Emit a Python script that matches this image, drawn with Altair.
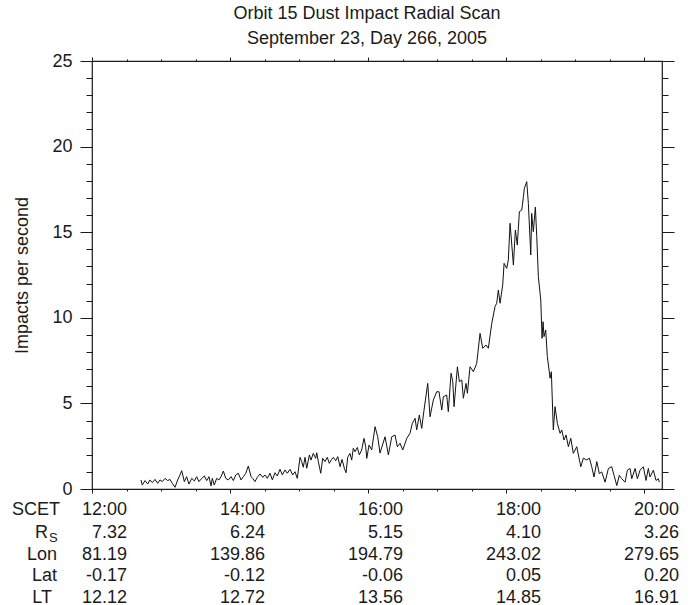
import altair as alt
import pandas as pd

# ---- data ----
# sample time in minutes after 12:00 SCET, and impact rate (impacts / s)
MINUTES = [
    42.6, 43.7, 46.1, 48.4, 50.4, 52.4, 54.8, 57.1, 59.1, 61.1,
    63.5, 65.8, 67.8, 69.8, 72.2, 74.5, 76.5, 78.0, 80.3, 82.3,
    84.3, 86.7, 89.0, 91.0, 93.0, 95.4, 97.7, 99.7, 101.7, 103.5,
    104.6, 106.3, 108.4, 110.4, 112.2, 114.2, 116.3, 118.5, 120.9, 122.9,
    125.0, 127.2, 129.6, 131.6, 133.7, 135.9, 138.3, 139.7, 141.7, 143.7,
    146.1, 148.4, 150.4, 152.4, 154.8, 156.8, 159.1, 161.1, 163.5, 165.5,
    167.8, 169.8, 172.2, 174.5, 176.5, 178.5, 180.9, 182.3, 183.7, 185.2,
    186.7, 189.0, 190.4, 192.4, 194.5, 195.4, 196.8, 198.9, 200.6, 202.6,
    204.6, 206.3, 208.4, 209.8, 211.9, 213.7, 215.7, 217.4, 219.4, 220.9,
    222.3, 224.3, 225.8, 227.2, 228.7, 230.7, 232.4, 234.5, 236.5, 238.0,
    238.9, 240.9, 243.2, 246.1, 248.4, 250.4, 254.8, 257.7, 260.6, 263.5,
    265.5, 267.8, 270.2, 273.7, 276.5, 278.5, 280.9, 282.3, 284.6, 286.7,
    288.1, 291.9, 293.9, 296.8, 299.7, 301.7, 304.1, 305.5, 308.4, 309.8,
    312.2, 313.7, 314.8, 317.7, 319.4, 321.5, 322.9, 325.2, 326.4, 328.7,
    331.6, 334.5, 337.4, 339.7, 342.6, 344.6, 347.6, 350.4, 351.9, 353.3,
    354.8, 357.1, 358.3, 360.6, 362.0, 363.5, 366.4, 368.1, 369.8, 371.6,
    373.7, 375.1, 375.9, 378.0, 379.4, 381.5, 382.3, 383.7, 385.5, 386.7,
    388.1, 390.2, 391.3, 392.2, 393.0, 394.5, 395.9, 397.4, 398.3, 399.4,
    401.1, 402.6, 404.6, 407.0, 408.4, 410.4, 412.2, 414.2, 416.3, 418.5,
    421.5, 423.8, 425.0, 427.2, 430.2, 432.5, 434.5, 436.5, 438.9, 441.1,
    443.2, 446.1, 449.0, 451.9, 453.9, 456.3, 458.5, 460.6, 463.5, 465.5,
    467.8, 469.3, 472.2, 474.2, 476.5, 479.4, 481.7, 483.7, 485.2, 488.1,
    490.4, 492.4, 493.3,
]
RATE = [
    0.53, 0.23, 0.49, 0.29, 0.53, 0.37, 0.56, 0.33, 0.53, 0.43,
    0.62, 0.49, 0.56, 0.33, 0.10, 0.53, 0.82, 1.07, 0.43, 0.72,
    0.29, 0.62, 0.47, 0.72, 0.43, 0.62, 0.76, 0.49, 0.72, 0.18,
    0.62, 0.23, 0.62, 0.53, 0.72, 1.05, 0.62, 0.53, 0.72, 0.49,
    0.82, 0.92, 0.53, 0.72, 0.92, 1.34, 0.72, 0.62, 0.43, 0.68,
    0.88, 0.68, 0.82, 0.62, 0.92, 0.53, 0.95, 0.76, 1.15, 0.82,
    1.11, 0.92, 1.15, 0.82, 1.01, 0.62, 1.85, 1.60, 1.27, 1.85,
    1.21, 1.99, 1.69, 2.08, 1.79, 2.12, 1.60, 0.92, 1.79, 1.60,
    1.85, 1.50, 1.73, 1.85, 1.65, 1.89, 1.30, 1.73, 1.21, 0.95,
    1.85, 2.08, 1.69, 2.38, 2.18, 2.43, 1.99, 2.28, 2.96, 2.47,
    1.79, 2.57, 2.28, 3.64, 3.06, 2.10, 3.05, 1.99, 3.05, 3.15,
    2.47, 2.67, 2.28, 2.96, 3.25, 3.83, 4.13, 3.45, 4.32, 3.54,
    4.32, 6.17, 4.22, 5.20, 5.68, 5.68, 4.61, 5.39, 5.49, 4.52,
    6.76, 6.27, 4.81, 7.14, 6.27, 6.37, 5.30, 6.17, 5.59, 7.14,
    6.85, 7.34, 9.09, 8.22, 8.41, 8.22, 9.68, 10.65, 10.85, 11.62,
    10.85, 11.92, 13.18, 12.89, 13.38, 15.52, 13.08, 15.13, 14.25, 16.20,
    16.30, 17.08, 17.56, 17.95, 16.69, 13.67, 16.10, 15.03, 16.47, 14.74,
    12.40, 11.04, 8.80, 9.77, 8.90, 9.29, 7.73, 6.95, 6.47, 6.85,
    3.45, 4.81, 3.84, 3.25, 3.45, 2.86, 3.15, 2.47, 2.96, 2.08,
    2.47, 1.69, 1.30, 1.80, 1.70, 1.80, 1.30, 0.70, 1.60, 0.90,
    1.00, 0.40, 1.20, 1.30, 0.80, 0.20, 0.80, 0.60, 0.40, 1.10,
    1.20, 0.60, 1.20, 0.60, 1.10, 1.30, 0.50, 1.20, 0.70, 1.10,
    0.50, 0.60, 0.40,
]

# orbit ephemeris table under the time axis
TICK_HOURS = [12, 14, 16, 18, 20]
SCET = ["12:00", "14:00", "16:00", "18:00", "20:00"]
RS = ["7.32", "6.24", "5.15", "4.10", "3.26"]
LON = ["81.19", "139.86", "194.79", "243.02", "279.65"]
LAT = ["-0.17", "-0.12", "-0.06", "0.05", "0.20"]
LT = ["12.12", "12.72", "13.56", "14.85", "16.91"]

TITLE_1 = "Orbit 15 Dust Impact Radial Scan"
TITLE_2 = "September 23, Day 266, 2005"
Y_TITLE = "Impacts per second"

MAJOR_Y = [0, 5, 10, 15, 20, 25]
MINOR_Y = list(range(0, 26))
MAJOR_X = [12, 14, 16, 18, 20]
MINOR_X = [12, 12.5, 13, 13.5, 14, 14.5, 15, 15.5, 16, 16.5, 17, 17.5,
           18, 18.5, 19, 19.5, 20]

# ---- styling ----
FONT = "Liberation Sans"
INK = "#1a1a1a"
W, H = 570, 428
X_DOMAIN = [12, 20.26]
Y_DOMAIN = [0, 25]

df = pd.DataFrame({"hour": [12 + m / 60 for m in MINUTES], "rate": RATE})
table = pd.DataFrame({"hour": TICK_HOURS, "SCET": SCET, "RS": RS,
                      "LON": LON, "LAT": LAT, "LT": LT})
one = pd.DataFrame({"k": [0]})

xs = alt.Scale(domain=X_DOMAIN, nice=False, zero=False)
ys = alt.Scale(domain=Y_DOMAIN, nice=False, zero=False)


def tick_axis(values, size, orient):
    return alt.Axis(values=values, tickSize=size, orient=orient, labels=False,
                    domain=False, grid=False, title=None, ticks=True,
                    tickColor=INK, tickWidth=1)


base = alt.Chart(df)

line = base.mark_line(color="#111111", strokeWidth=1).encode(
    x=alt.X("hour:Q", scale=xs, axis=tick_axis(MAJOR_X, 4, "bottom")),
    y=alt.Y("rate:Q", scale=ys, axis=alt.Axis(
        values=MAJOR_Y, tickSize=12, orient="left", format="d",
        labelFontSize=18, labelFont=FONT, labelColor=INK, labelPadding=8,
        domain=False, grid=False, tickColor=INK, tickWidth=1,
        title=Y_TITLE, titleFont=FONT, titleFontSize=18,
        titleFontWeight="normal", titleColor=INK, titleAngle=270,
        titleX=-70, titleY=H / 2, titleAlign="center",
        titleBaseline="middle")),
)

ghost_specs = [
    (tick_axis(MINOR_X, 2, "bottom"), tick_axis(MINOR_Y, 6, "left")),
    (tick_axis(MAJOR_X, 4, "top"), tick_axis(MAJOR_Y, 12, "right")),
    (tick_axis(MINOR_X, 2, "top"), tick_axis(MINOR_Y, 6, "right")),
]
ghosts = [
    base.mark_line(opacity=0).encode(
        x=alt.X("hour:Q", scale=xs, axis=ax),
        y=alt.Y("rate:Q", scale=ys, axis=ay))
    for ax, ay in ghost_specs
]

ROW_Y = [449, 472, 493.5, 515, 536.5]
rows = []
for field, yv in zip(["SCET", "RS", "LON", "LAT", "LT"], ROW_Y):
    rows.append(
        alt.Chart(table).mark_text(align="right", baseline="middle", dx=35,
                                   fontSize=18, font=FONT, color=INK)
        .encode(x=alt.X("hour:Q", scale=xs, axis=None), y=alt.value(yv),
                text=alt.Text(f"{field}:N")))


def label(txt, x, y, size=18, align="right"):
    return alt.Chart(one).mark_text(align=align, baseline="middle",
                                    fontSize=size, font=FONT, color=INK).encode(
        x=alt.value(x), y=alt.value(y), text=alt.value(txt))


row_labels = [
    label("SCET", -32, ROW_Y[0]),
    label("R", -44, ROW_Y[1]),
    label("S", -43, ROW_Y[1] + 5, size=13, align="left"),
    label("Lon", -35, ROW_Y[2]),
    label("Lat", -35, ROW_Y[3]),
    label("LT", -40, ROW_Y[4]),
]


def title_line(txt, y):
    return alt.Chart(one).mark_text(align="center", baseline="alphabetic",
                                    fontSize=18, font=FONT, color=INK).encode(
        x=alt.value(275), y=alt.value(y), text=alt.value(txt))


titles = [title_line(TITLE_1, -41.7), title_line(TITLE_2, -16.7)]

chart = alt.layer(line, *ghosts, *rows, *row_labels, *titles).resolve_axis(
    x="independent", y="independent"
).properties(
    width=W, height=H,
    autosize=alt.AutoSizeParams(type="none"),
    padding={"left": 92, "top": 61, "right": 30, "bottom": 116},
    background="white",
).configure_view(stroke=INK, strokeWidth=1.2)

chart.save("out.html", embed_options={"renderer": "svg", "actions": False})
